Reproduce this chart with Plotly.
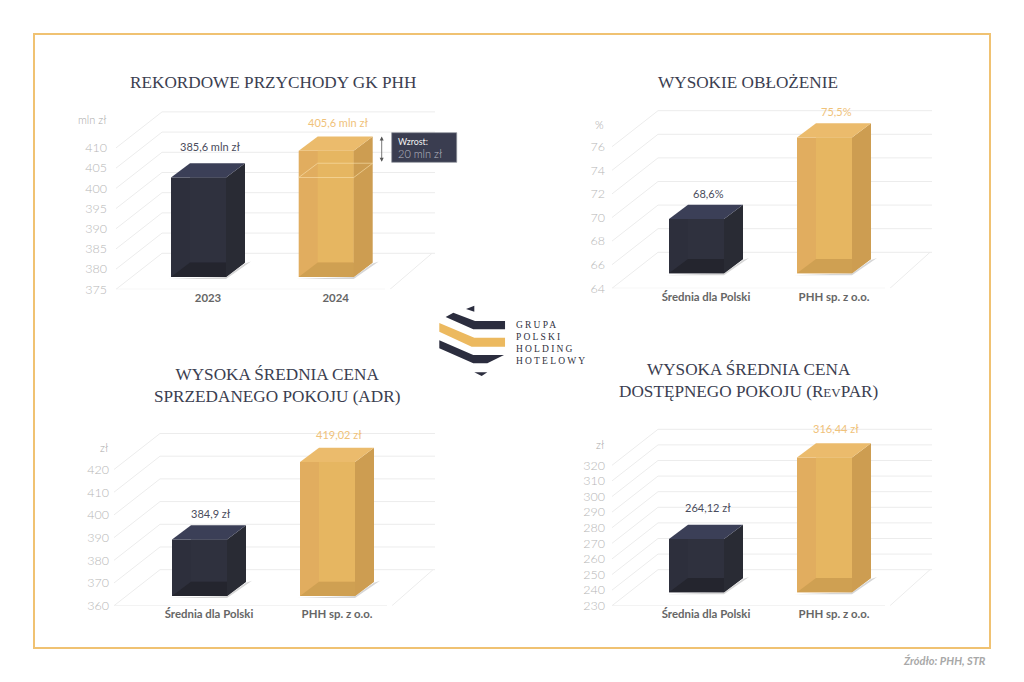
import plotly.graph_objects as go

# ---------- data ----------
p1_categories = ["2023", "2024"]
p1_bar_levels = [399.6, 406.2]          # bar heights as drawn against the axis
p1_labels = ["385,6 mln zł", "405,6 mln zł"]
p1_ticks = [375, 380, 385, 390, 395, 400, 405, 410]

p2_categories = ["Średnia dla Polski", "PHH sp. z o.o."]
p2_bar_levels = [68.6, 75.5]
p2_labels = ["68,6%", "75,5%"]
p2_ticks = [64, 66, 68, 70, 72, 74, 76]

p3_categories = ["Średnia dla Polski", "PHH sp. z o.o."]
p3_bar_levels = [384.9, 419.02]
p3_labels = ["384,9 zł", "419,02 zł"]
p3_ticks = [360, 370, 380, 390, 400, 410, 420]

p4_categories = ["Średnia dla Polski", "PHH sp. z o.o."]
p4_bar_levels = [264.12, 316.44]
p4_labels = ["264,12 zł", "316,44 zł"]
p4_ticks = [230, 240, 250, 260, 270, 280, 290, 300, 310, 320]

W, H = 1024, 682
DARK = dict(strip="#2d2f3c", core="#2f313e", floor="#24252e", side="#292b34", top="#3b3f57")
GOLD = dict(strip="#e1ad5f", core="#e6b661", floor="#cfa052", side="#cd9d51", top="#ebbb6c")
GRID = "#ececec"


def fx(px):
    return px / W


def fy(py):
    return 1 - py / H


panels = [
    dict(cats=p1_categories, vals=p1_bar_levels, labels=p1_labels, ticks=p1_ticks, unit="mln zł",
         left=116, right=435, floor_right=385, bottom=289.3, top_line=111.3, ppu=4.04,
         c0=208, spacing=127.7, base_gap=12.4, standoff=8, unit_y=119, gaps=[17, 13.7],
         floor_back_right=432),
    dict(cats=p2_categories, vals=p2_bar_levels, labels=p2_labels, ticks=p2_ticks, unit="%",
         left=612, right=932, floor_right=885, bottom=288.3, top_line=110.7, ppu=11.8,
         c0=706, spacing=128, base_gap=15, standoff=6, unit_y=124, gaps=[11.7, 11.7],
         floor_back_right=930),
    dict(cats=p3_categories, vals=p3_bar_levels, labels=p3_labels, ticks=p3_ticks, unit="zł",
         left=114, right=435, floor_right=387, bottom=605.7, top_line=433.3, ppu=2.27,
         c0=209, spacing=128, base_gap=9.7, standoff=4, unit_y=447, gaps=[11.7, 13.7],
         floor_back_right=433),
    dict(cats=p4_categories, vals=p4_bar_levels, labels=p4_labels, ticks=p4_ticks, unit="zł",
         left=612, right=932, floor_right=885, bottom=605.7, top_line=429, ppu=1.56,
         c0=706, spacing=128, base_gap=13.4, standoff=6, unit_y=444, gaps=[17.4, 15],
         floor_back_right=930),
]

FLOOR_DZ_PX, FLOOR_DX_PX = 36, 46
BAR_W_PX, BAR_DX_PX, BAR_DZ_PX = 55, 19, 14.3
PAD = 6

fig = go.Figure()
layout = {}
annotations = []


def poly(xs, ys, color, ax):
    fig.add_trace(go.Scatter(x=xs + xs[:1], y=ys + ys[:1], mode="lines", fill="toself",
                             fillcolor=color, line=dict(width=0, color=color),
                             hoverinfo="skip", showlegend=False, xaxis=ax[0], yaxis=ax[1]))


for i, p in enumerate(panels, start=1):
    sfx = "" if i == 1 else str(i)
    ax = ("x" + sfx, "y" + sfx)
    ppc, ppu = p["spacing"], p["ppu"]
    vmin = p["ticks"][0]
    x0 = (p["left"] - p["c0"]) / ppc
    x1 = (p["right"] - p["c0"]) / ppc
    y1 = vmin + (p["bottom"] - p["top_line"] + PAD) / ppu
    fdx, fdz = FLOOR_DX_PX / ppc, FLOOR_DZ_PX / ppu
    layout["xaxis" + sfx] = dict(
        domain=[fx(p["left"]), fx(p["right"])], range=[x0, x1], anchor=ax[1],
        tickmode="array", tickvals=[0, 1], ticktext=p["cats"], showgrid=False, zeroline=False,
        showline=False, ticks="", fixedrange=True,
        tickfont=dict(family="Lato", size=11.4, color="#666666", weight="bold"))
    layout["yaxis" + sfx] = dict(
        domain=[fy(p["bottom"]), fy(p["top_line"] - PAD)], range=[vmin, y1], anchor=ax[0],
        tickmode="array", tickvals=p["ticks"], showgrid=False, zeroline=False, showline=False,
        ticks="", fixedrange=True, ticklabelstandoff=p["standoff"],
        tickfont=dict(family="Lato", size=12.5, color="#b6b6b6", weight=300))

    # receding grid: side wall diagonal + back wall line for every tick
    gx, gy = [], []
    for v in p["ticks"]:
        gx += [x0, x0 + fdx, x1, None]
        gy += [v, v + fdz, v + fdz, None]
    # floor edges
    fxr = (p["floor_right"] - p["c0"]) / ppc
    fbr = (p["floor_back_right"] - p["c0"]) / ppc
    gx += [x0, fxr, None, fxr + 5 / ppc, fbr]
    gy += [vmin, vmin, None, vmin, vmin + fdz]
    fig.add_trace(go.Scatter(x=gx, y=gy, mode="lines", line=dict(color=GRID, width=1),
                             hoverinfo="skip", showlegend=False, xaxis=ax[0], yaxis=ax[1]))

    bw, bdx = BAR_W_PX / ppc, BAR_DX_PX / ppc
    bdz = BAR_DZ_PX / ppu
    lift = p["base_gap"] / ppu
    for k, v in enumerate(p["vals"]):
        c = DARK if k == 0 else GOLD
        xl = k - (bw + bdx) / 2
        xr = xl + bw
        b = vmin + lift
        t = v + lift
        # soft shadow under the box
        poly([xl - 3 / ppc, xr, xr + bdx + 6 / ppc, xr + bdx, xr],
             [b - 2 / ppu, b - 2 / ppu, b + bdz + 1 / ppu, b + bdz - 1 / ppu, b],
             "rgba(0,0,0,0.16)", ax)
        poly([xl, xr, xr, xl], [b, b, t, t], c["strip"], ax)                     # front
        poly([xl + bdx, xr, xr, xl + bdx], [b + bdz, b + bdz, t, t], c["core"], ax)  # back seen through
        poly([xl, xr, xr + bdx, xl + bdx], [b, b, b + bdz, b + bdz], c["floor"], ax)  # floor
        poly([xr, xr + bdx, xr + bdx, xr], [b, b + bdz, t + bdz, t], c["side"], ax)   # side
        poly([xl, xr, xr + bdx, xl + bdx], [t, t, t + bdz, t + bdz], c["top"], ax)    # top
        annotations.append(dict(
            x=k + 2 / ppc, y=t + bdz, xref=ax[0], yref=ax[1], text=p["labels"][k],
            showarrow=False, yshift=p["gaps"][k], yanchor="middle",
            font=dict(family="Lato", size=11, color="#4a4c5c" if k == 0 else "#f0c27a")))
    annotations.append(dict(
        xref="paper", yref="paper", x=fx(p["left"] - p["standoff"]), y=fy(p["unit_y"]), text=p["unit"],
        xanchor="right", yanchor="middle", showarrow=False,
        font=dict(family="Lato", size=11, color="#a9a9a9", weight=300)))

    if i == 1:
        # level of the 2023 bar marked inside the 2024 box
        k = 1
        xl = k - (bw + bdx) / 2
        xr = xl + bw
        lv = p["vals"][0] + lift
        fig.add_trace(go.Scatter(
            x=[xl, xr, xr + bdx, xl + bdx, xl], y=[lv, lv, lv + bdz, lv + bdz, lv], mode="lines",
            line=dict(color="rgba(250,226,175,0.6)", width=1), hoverinfo="skip", showlegend=False,
            xaxis=ax[0], yaxis=ax[1]))
        ax_x = xr + bdx + 9 / ppc
        annotations.append(dict(
            x=ax_x, y=p["vals"][1] + lift + bdz, ax=ax_x, ay=p["vals"][0] + lift + bdz,
            xref=ax[0], yref=ax[1], axref=ax[0], ayref=ax[1], text="", showarrow=True,
            arrowhead=2, arrowside="end+start", arrowsize=1, arrowwidth=0.8, arrowcolor="#555555"))

# ---------- titles ----------
TITLE = dict(family="Liberation Serif", size=17.2, color="#3b3e50")
for tx, ty, text in [
    (273, 82, "REKORDOWE PRZYCHODY GK PHH"),
    (748, 82, "WYSOKIE OBŁOŻENIE"),
    (277, 385, "WYSOKA ŚREDNIA CENA<br>SPRZEDANEGO POKOJU (ADR)"),
    (748, 381, 'WYSOKA ŚREDNIA CENA<br>DOSTĘPNEGO POKOJU (R<span style="font-size:13px">EV</span>PAR)'),
]:
    annotations.append(dict(xref="paper", yref="paper", x=fx(tx), y=fy(ty), text=text, showarrow=False,
                            xanchor="center", yanchor="middle", align="center", font=TITLE))

# ---------- growth call-out ----------
annotations.append(dict(xref="paper", yref="paper", x=fx(395.5), y=fy(141), text="Wzrost:", showarrow=False,
                        xanchor="left", yanchor="middle",
                        font=dict(family="Lato", size=8.8, color="#f2f2f2")))
annotations.append(dict(xref="paper", yref="paper", x=fx(395.5), y=fy(153), text="20 mln zł", showarrow=False,
                        xanchor="left", yanchor="middle",
                        font=dict(family="Lato", size=11, color="#b8b9c2", weight=300)))

# ---------- logo wording ----------
for ly, word in [(325, "GRUPA"), (337, "POLSKI"), (349, "HOLDING"), (360.5, "HOTELOWY")]:
    annotations.append(dict(xref="paper", yref="paper", x=fx(514), y=fy(ly),
                            text=f'<span style="letter-spacing:2.2px">{word}</span>', showarrow=False,
                            xanchor="left", yanchor="middle",
                            font=dict(family="Liberation Serif", size=9.5, color="#2f3140")))

# ---------- source ----------
annotations.append(dict(xref="paper", yref="paper", x=fx(988), y=fy(660), text="Źródło: PHH, STR", showarrow=False,
                        xanchor="right", yanchor="middle",
                        font=dict(family="Lato", size=11, color="#a8a8a8", style="italic", weight="bold")))

# ---------- decorative shapes ----------
def path(points):
    return "M " + " L ".join(f"{fx(430 + a / 3):.4f},{fy(295 + b / 3):.4f}" for a, b in points) + " Z"


shapes = [
    dict(type="rect", xref="paper", yref="paper", x0=fx(34), x1=fx(990), y0=fy(648), y1=fy(34),
         line=dict(color="#f0c272", width=2), fillcolor="rgba(0,0,0,0)"),
    dict(type="rect", xref="paper", yref="paper", x0=fx(391.7), x1=fx(456.7), y0=fy(162.3), y1=fy(132.7),
         line=dict(color="#8d8f9a", width=0.7), fillcolor="#3a3d50"),
]
LOGO_DARK, LOGO_GOLD = "#2b2d3e", "#ecb95f"
for pts, col in [
    ([(108, 42), (133, 32), (133, 50)], LOGO_DARK),
    ([(47, 66), (70, 53), (135, 78), (225, 78), (225, 103), (130, 103)], LOGO_DARK),
    ([(28, 84), (133, 128), (225, 128), (225, 155), (125, 155), (28, 110)], LOGO_GOLD),
    ([(28, 136), (130, 180), (222, 180), (172, 205), (130, 205), (28, 160)], LOGO_DARK),
    ([(133, 232), (172, 232), (155, 243)], LOGO_DARK),
]:
    shapes.append(dict(type="path", xref="paper", yref="paper", path=path(pts), fillcolor=col, line=dict(width=0)))

fig.update_layout(width=W, height=H, margin=dict(l=0, r=0, t=0, b=0, autoexpand=False), paper_bgcolor="white",
                  plot_bgcolor="white", showlegend=False, annotations=annotations, shapes=shapes, **layout)
fig.write_html("out.html", config={"displayModeBar": False},
               post_script="document.body.style.margin='0';")
